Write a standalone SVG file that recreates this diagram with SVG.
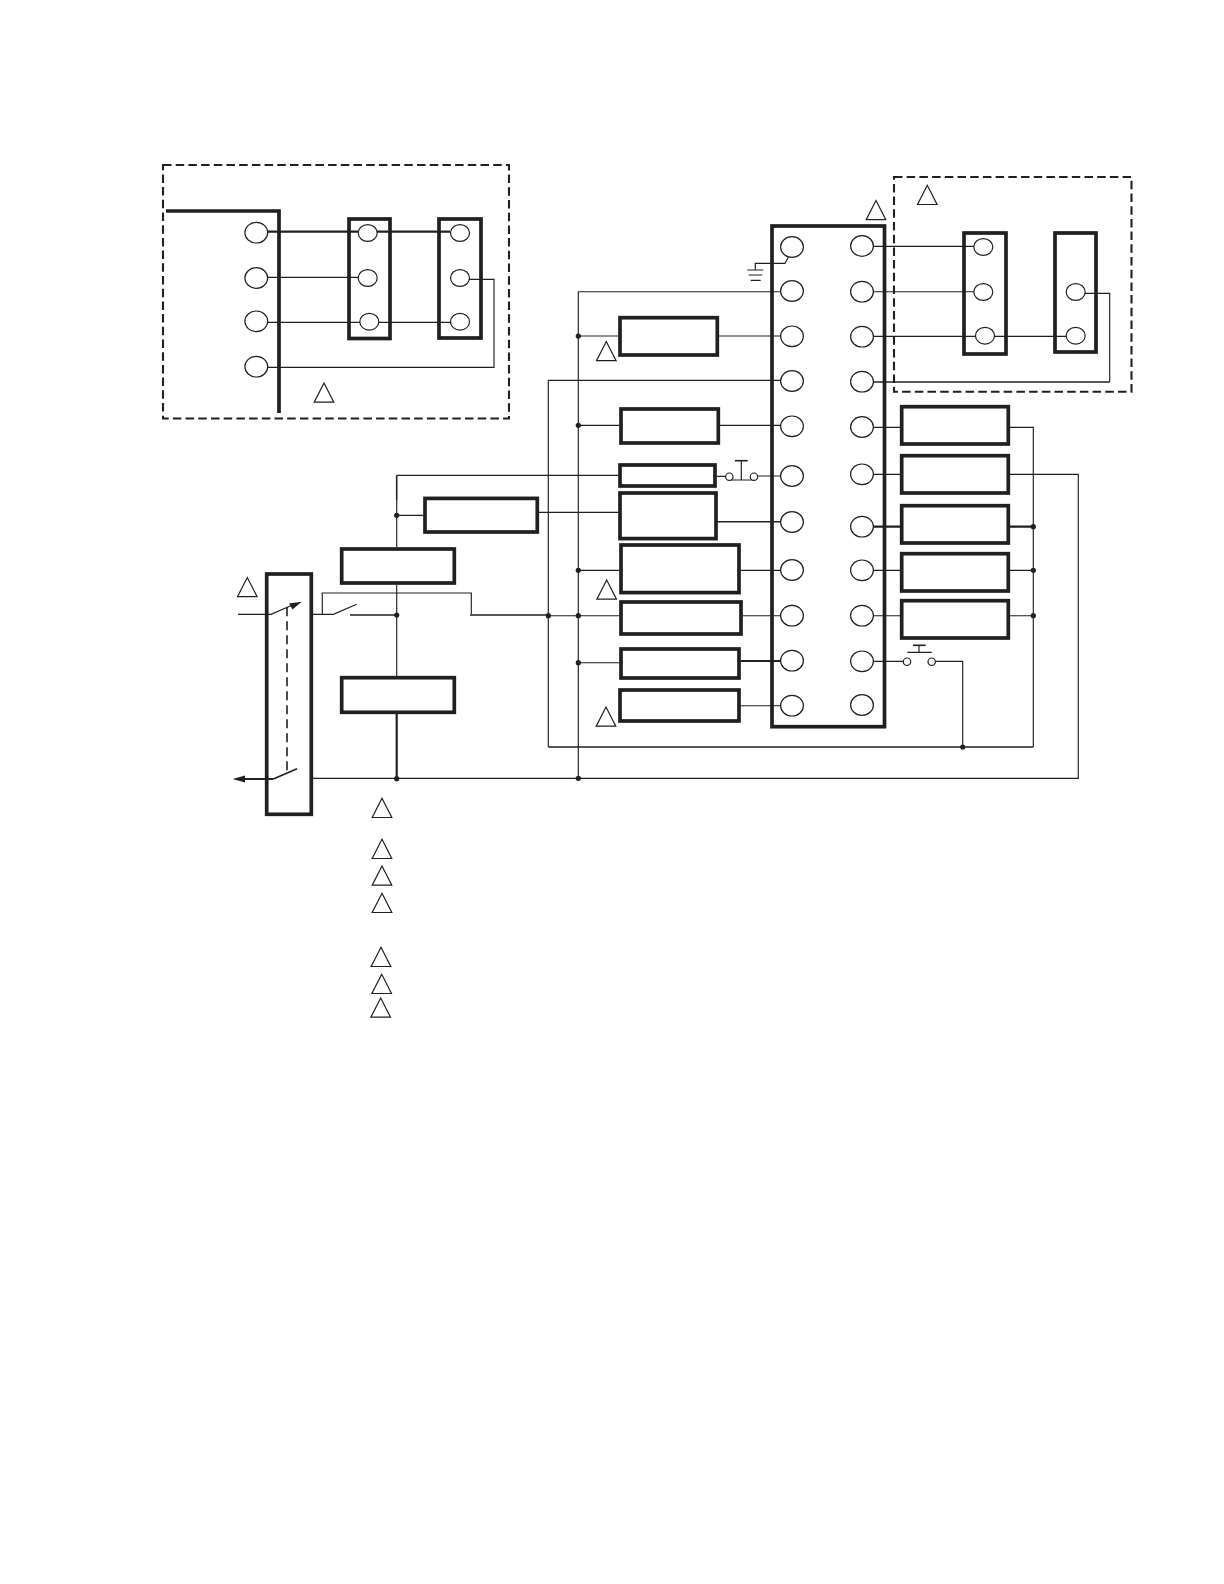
<svg xmlns="http://www.w3.org/2000/svg" width="1224" height="1584" viewBox="0 0 1224 1584">
<style>
.bg{fill:#fff}
.box{fill:none;stroke:#231f20;stroke-width:3.7}
.dash{fill:none;stroke:#231f20;stroke-width:2.1;stroke-dasharray:8.5 4.2}
.w{fill:none;stroke:#231f20;stroke-width:1.15}
.m{fill:none;stroke:#231f20;stroke-width:1.6}
.t{fill:none;stroke:#231f20;stroke-width:2.2}
.th{fill:none;stroke:#231f20;stroke-width:3.7}
.c{fill:#fff;stroke:#231f20;stroke-width:1.2}
.d{fill:#231f20}
.a{fill:#231f20}
.tri{fill:none;stroke:#231f20;stroke-width:1.2;stroke-linejoin:miter}
</style>
<defs>
<ellipse id="b" rx="11.4" ry="10.3" class="c"/>
<ellipse id="s" rx="9.5" ry="8.4" class="c"/>
<circle id="dot" r="2.6" class="d"/>
<path id="tr" d="M0 0L-9.8 19.2H9.8Z" class="tri"/>
</defs>
<rect class="bg" width="1224" height="1584"/>

<g id="connectors">
<path class="t" d="M267 231.7H450"/>
<path class="w" d="M267 277.3H358M267 322.3H450M469 279.3H494V367.3H267"/>
<path class="w" d="M873 246.3H974M873 291.7H974M873 336.3H1066M1085 293.3H1109.7V382"/>
<path class="m" d="M873 382H1109.7"/>
<path class="w" d="M788.3 257.3L785 263.3H755.3V270M747.3 270H763.3M748.7 275H762.3M750.7 280.3H760.7"/>
<path class="w" d="M578.3 778.3V291.7H781M548.3 747V380.3H781"/>
<path class="m" d="M548.3 747H1033.3"/>
<path class="w" d="M1033.3 747V427.3H1010"/>
<path class="w" d="M313 778.3H1078.3V474.3H1010"/>
<path class="w" d="M578.3 336H618.3M718.7 336H781M578.3 425.3H619.3M720 425.3H781"/>
<path class="w" d="M396.7 475.3H618.3M396.7 500V547.3M396.7 515.3H423.3M539 512.3H618.3"/>
<path class="m" d="M396.7 475.3V500"/>
<path class="m" d="M716.7 521.7H781"/>
<path class="w" d="M716.7 476.3H725.6M757.7 476H781"/>
<path class="w" d="M729.3 480H754M741.3 460.7V480"/>
<path class="m" d="M735 460.7H747.7"/>
<path class="w" d="M578.3 570.3H619.3M740.7 570.3H781M548.3 615.7H619.3M742.7 615.7H781M578.3 662.7H619.3M740.7 705.7H781"/>
<path class="t" d="M740.7 661H781"/>
<path class="w" d="M873 427.3H900M873 474.3H900M873 570.3H900M873 615.7H900M1010 570.3H1033.3M1010 615.7H1033.3"/>
<path class="t" d="M873 526.7H900M1010 526.7H1033.3"/>
<path class="w" d="M873 661.3H903.3M935.4 661.3H962.7V747M907.3 652.3H931.7M919 645.3V652.3"/>
<path class="m" d="M913 645.3H925.7"/>
<path class="w" d="M396.7 584.7V676M238 614.3H271L296 603.5"/>
<path class="m" d="M287 607.3V772.7" stroke-dasharray="9 5" stroke-width="1.9"/>
<path class="t" d="M240 779H273.3"/>
<path class="m" d="M273.3 779L297 768.7"/>
<path class="w" d="M313 614.3H333.3L356.7 604.3M322.3 614.3V593H471.3V614.3"/>
<path class="m" d="M350 615H396.7M470 615H548.3"/>
<path class="t" d="M396.7 714V778.5"/>
<path class="a" d="M301.7 601.7L289 603.5L292.5 609.5Z"/>
<path class="a" d="M232.7 779L245 775.5V782.5Z"/>
<use href="#dot" x="396.7" y="515.3"/><use href="#dot" x="396.7" y="615"/><use href="#dot" x="396.7" y="778.7"/>
<use href="#dot" x="548.3" y="615.7"/>
<use href="#dot" x="578.3" y="336"/><use href="#dot" x="578.3" y="425.3"/><use href="#dot" x="578.3" y="570.3"/><use href="#dot" x="578.3" y="615.7"/><use href="#dot" x="578.3" y="662.7"/><use href="#dot" x="578.3" y="778.3"/>
<use href="#dot" x="962.7" y="747"/>
<use href="#dot" x="1033.3" y="526.7"/><use href="#dot" x="1033.3" y="570.3"/><use href="#dot" x="1033.3" y="615.7"/>
</g>

<g id="panel-left">
<rect class="dash" x="163" y="165" width="346" height="253.5"/>
<path class="th" d="M166 211H279V413"/>
<use href="#b" x="256.3" y="232.7"/><use href="#b" x="256.3" y="278"/><use href="#b" x="256.3" y="321.3"/><use href="#b" x="256.3" y="366.7"/>
<use href="#tr" x="324" y="383"/>
</g>
<g id="strip-1"><rect class="box" x="349" y="219" width="41" height="119.5"/>
<use href="#s" x="367.7" y="233"/><use href="#s" x="367.7" y="278"/><use href="#s" x="369.3" y="321.7"/></g>
<g id="strip-2"><rect class="box" x="439" y="219" width="42" height="119"/>
<use href="#s" x="460" y="233"/><use href="#s" x="460" y="278"/><use href="#s" x="460" y="321.7"/></g>

<g id="panel-right">
<rect class="dash" x="894" y="177" width="237.5" height="214.7"/>
<use href="#tr" x="927.3" y="185.3"/>
</g>
<g id="strip-3"><rect class="box" x="964" y="233" width="42" height="121"/>
<use href="#s" x="983.3" y="247"/><use href="#s" x="983.3" y="292"/><use href="#s" x="985" y="335.7"/></g>
<g id="strip-4"><rect class="box" x="1055" y="233" width="41" height="119"/>
<use href="#s" x="1075.7" y="292"/><use href="#s" x="1075.7" y="335.7"/></g>

<g id="terminal-block">
<rect class="box" x="772" y="226" width="112.5" height="500.7"/>
<use href="#tr" x="876" y="200.5"/>
<use href="#b" x="792" y="247"/><use href="#b" x="792" y="291"/><use href="#b" x="792" y="336.3"/><use href="#b" x="792" y="381"/><use href="#b" x="792" y="426.3"/><use href="#b" x="792" y="476"/><use href="#b" x="792" y="522"/><use href="#b" x="792" y="570"/><use href="#b" x="792" y="615.7"/><use href="#b" x="792" y="660.7"/><use href="#b" x="792" y="705.7"/>
<use href="#b" x="862" y="246"/><use href="#b" x="862" y="291.7"/><use href="#b" x="862" y="336.7"/><use href="#b" x="862" y="381.7"/><use href="#b" x="862" y="427"/><use href="#b" x="862" y="474.3"/><use href="#b" x="862" y="526.7"/><use href="#b" x="862" y="570.3"/><use href="#b" x="862" y="615.7"/><use href="#b" x="862" y="661.3"/><use href="#b" x="862" y="705"/>
</g>

<g id="box-a"><rect class="box" x="620" y="317.7" width="97.3" height="37.3"/></g>
<g id="box-b"><rect class="box" x="621" y="409" width="97.3" height="34"/></g>
<g id="box-c"><rect class="box" x="620" y="465" width="95" height="21"/></g>
<g id="box-d"><rect class="box" x="620" y="493" width="96" height="45.6"/></g>
<g id="box-e"><rect class="box" x="425" y="498.4" width="112.3" height="33.6"/></g>
<g id="box-f"><rect class="box" x="621" y="545" width="118" height="47.6"/></g>
<g id="box-g"><rect class="box" x="621" y="602" width="120" height="32"/></g>
<g id="box-h"><rect class="box" x="621" y="649" width="118" height="29"/></g>
<g id="box-i"><rect class="box" x="620" y="690" width="119" height="31"/></g>
<g id="box-j"><rect class="box" x="341.7" y="549" width="112.6" height="34"/></g>
<g id="box-k"><rect class="box" x="341.7" y="677.7" width="112.6" height="34.6"/></g>
<g id="breaker"><rect class="box" x="266.7" y="574" width="44.6" height="240.3"/></g>
<g id="box-r1"><rect class="box" x="901.7" y="406.7" width="106.6" height="37.3"/></g>
<g id="box-r2"><rect class="box" x="901.7" y="455.7" width="106.6" height="37.3"/></g>
<g id="box-r3"><rect class="box" x="901.7" y="505.7" width="106.6" height="37.3"/></g>
<g id="box-r4"><rect class="box" x="901.7" y="553.7" width="106.6" height="37.3"/></g>
<g id="box-r5"><rect class="box" x="901.7" y="600.7" width="106.6" height="37.3"/></g>
<g id="pushbuttons">
<circle class="c" cx="729.3" cy="476.7" r="3.7"/><circle class="c" cx="754" cy="476.7" r="3.7"/>
<circle class="c" cx="907" cy="661.7" r="3.7"/><circle class="c" cx="931.7" cy="661.7" r="3.7"/>
</g>

<g id="markers">
<use href="#tr" x="606.3" y="341.5"/><use href="#tr" x="606.7" y="580"/><use href="#tr" x="606" y="707"/>
<use href="#tr" x="247.3" y="577.5"/>
<use href="#tr" x="382" y="798.3"/><use href="#tr" x="382" y="839.3"/><use href="#tr" x="382" y="866"/><use href="#tr" x="382" y="893.3"/>
<use href="#tr" x="381" y="947.3"/><use href="#tr" x="381.7" y="974.3"/><use href="#tr" x="380.7" y="998"/>
</g>
</svg>
